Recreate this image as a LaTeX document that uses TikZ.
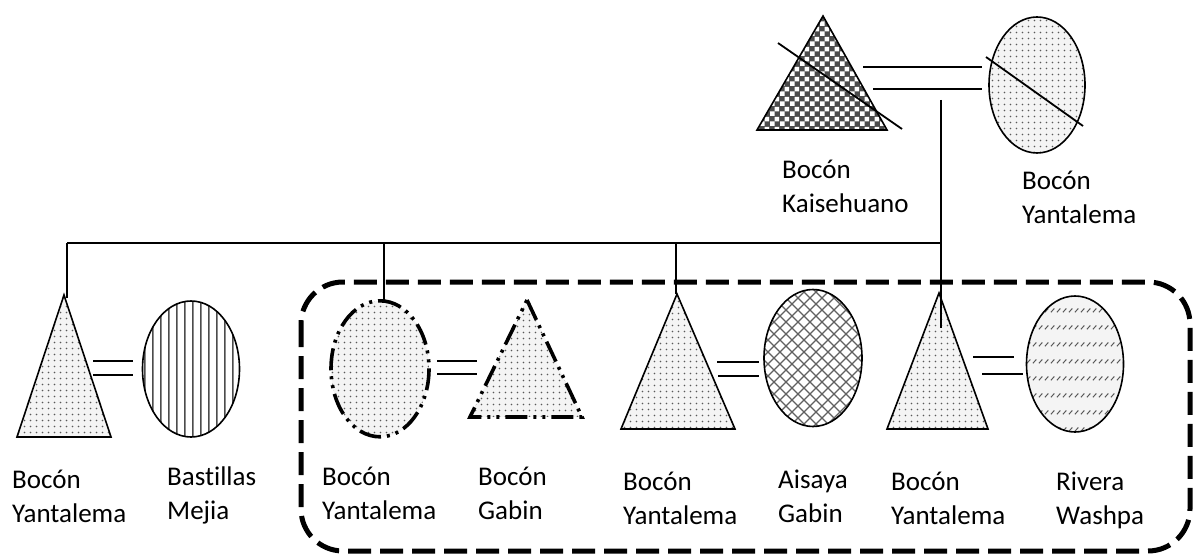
\documentclass[tikz,border=0pt]{standalone}
\usepackage{fontspec}
\setmainfont{Carlito}[Ligatures=NoCommon]
\usetikzlibrary{patterns,patterns.meta,shapes.geometric}

\tikzdeclarepattern{name=pdots, type=uncolored,
  bounding box={(0pt,0pt) and (5.5pt,5.5pt)}, tile size={(5.5pt,5.5pt)},
  code={\fill (2.75pt,2.75pt) circle (1pt);}}
\tikzdeclarepattern{name=pcheck, type=uncolored,
  bounding box={(0pt,0pt) and (10pt,10pt)}, tile size={(10pt,10pt)},
  code={\fill (0pt,0pt) rectangle (5pt,5pt); \fill (5pt,5pt) rectangle (10pt,10pt);}}
\tikzdeclarepattern{name=pvlines, type=uncolored,
  bounding box={(0pt,0pt) and (8.3pt,8.3pt)}, tile size={(8.3pt,8.3pt)},
  code={\fill (3.4pt,-0.1pt) rectangle (4.9pt,8.4pt);}}
\tikzdeclarepattern{name=pcross, type=uncolored,
  bounding box={(-1pt,-1pt) and (13pt,13pt)}, tile size={(12pt,12pt)},
  code={\draw[line width=1.1pt] (0pt,0pt) -- (12pt,12pt) (0pt,12pt) -- (12pt,0pt);}}
\tikzdeclarepattern{name=pslash, type=uncolored,
  bounding box={(0pt,0pt) and (6pt,17pt)}, tile size={(6pt,17pt)},
  code={\draw[line width=1.1pt] (1pt,6pt) -- (5pt,10pt);}}

\tikzset{
  conn/.style={line width=1.8pt, line cap=butt},
  outl/.style={draw, line width=1.6pt},
  dotfill/.style={preaction={fill=gray!9}, pattern=pdots, pattern color=gray!70!black},
  ell/.style={ellipse, inner sep=0pt, minimum width=97pt, minimum height=136pt},
  dashdotline/.style={line width=3.6pt, dash pattern=on 22pt off 6pt on 3pt off 6pt on 3pt off 6pt},
  lbl/.style={anchor=base west, align=left, inner sep=0pt, font=\fontsize{27}{34}\selectfont},
}

\begin{document}
\begin{tikzpicture}[x=1pt, y=-1pt]
\useasboundingbox (0,0) rectangle (1194,556);

% group frame
\draw[line width=5pt, dash pattern=on 23pt off 9pt, rounded corners=42pt] (301,282) rectangle (1190,551);

% top couple
\draw[outl, preaction={fill=gray!60!black}, pattern=pcheck, pattern color=white]
  (823,16) coordinate (kA) -- (887,130) coordinate (kR) -- (757,130) coordinate (kL) -- cycle;
\node[ell, outl, dotfill, minimum width=96pt] (ty) at (1037,85) {};
\draw[conn] (778,43) -- (902,129);
\draw[conn] (986,57) -- (1083,126);
\coordinate (m1a) at (863,67); \coordinate (m1b) at (982,67);
\coordinate (m1c) at (873,89); \coordinate (m1d) at (982,89);
\draw[conn] (m1a) -- (m1b);
\draw[conn] (m1c) -- (m1d);

% children shapes
\draw[outl, dotfill] (64,295) coordinate (t1) -- (111,437) -- (17,437) -- cycle;
\node[ell, outl, preaction={fill=white}, pattern=pvlines, pattern color=gray!60!black] (bm) at (191,369) {};

\node[ell, dotfill, minimum width=98pt] (by) at (380,369) {};
\draw[dashdotline] (by.north) arc[start angle=90, end angle=-270, x radius=49pt, y radius=68pt];
\path[dotfill] (527,300) -- (582,417) -- (470,417) -- cycle;
\draw[dashdotline] (527,300) coordinate (bg) -- (582,417) -- (470,417) -- cycle;

\draw[outl, dotfill] (677,294) coordinate (t4) -- (735,429) -- (621,429) -- cycle;
\node[ell, outl, preaction={fill=white}, pattern=pcross, pattern color=gray!75!black, minimum width=98pt, minimum height=137pt] (ag) at (813,358) {};

\draw[outl, dotfill] (939,293) coordinate (t5) -- (988,429) -- (887,429) -- cycle;
\node[ell, outl, preaction={fill=gray!9}, pattern=pslash, pattern color=gray!70!black] (rw) at (1075,364) {};

% sibling line
\coordinate (d0) at (941,100);
\coordinate (d5) at (941,328);
\coordinate (h1) at (67,243);
\coordinate (h3) at (384,243);
\coordinate (h4) at (676,243);
\coordinate (h5) at (941,243);
\draw[conn] (d0) -- (d5);
\draw[conn] (h1) -- (h5);
\draw[conn] (h1) -- (67,298) coordinate (t1top);
\draw[conn] (h3) -- (h3 |- by.north);
\draw[conn] (h4) -- (h4 |- t4);

% marriage lines
\draw[conn] (93,361) -- (133,361);
\draw[conn] (93,375) -- (133,375);
\draw[conn] (437,361) -- (477,361);
\draw[conn] (437,374) -- (477,374);
\draw[conn] (717,362) -- (759,362);
\draw[conn] (718,376) -- (759,376);
\draw[conn] (973,357) -- (1014,357);
\draw[conn] (982,374) -- (1023,374);

% labels (anchor = baseline of the last line)
\node[lbl] (lk) at (782,213) {Bocón\\Kaisehuano};
\node[lbl] (lty) at (1022,224) {Bocón\\Yantalema};
\node[lbl] (l1) at (12,522) {Bocón\\Yantalema};
\node[lbl] (l2) at (167,519) {Bastillas\\Mejia};
\node[lbl] (l3) at (322,519) {Bocón\\Yantalema};
\node[lbl] (l4) at (478,519) {Bocón\\Gabin};
\node[lbl] (l5) at (623,524) {Bocón\\Yantalema};
\node[lbl] (l6) at (778,522) {Aisaya\\Gabin};
\node[lbl] (l7) at (891,524) {Bocón\\Yantalema};
\node[lbl] (l8) at (1056,524) {Rivera\\Washpa};
\end{tikzpicture}
\end{document}
